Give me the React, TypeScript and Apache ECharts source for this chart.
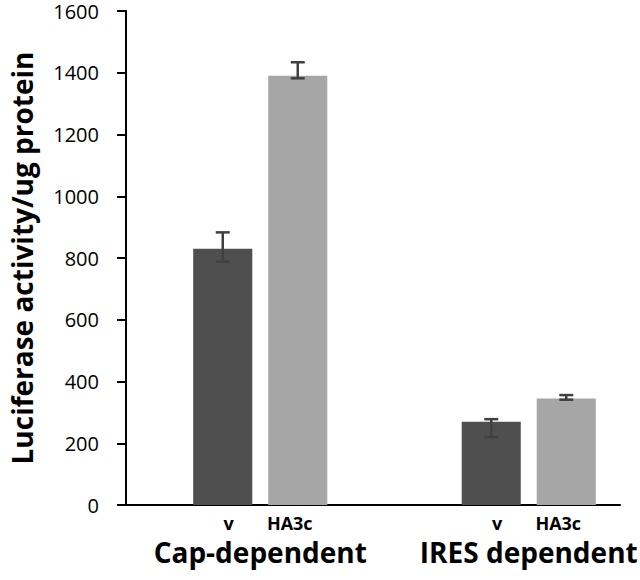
import React, { useEffect, useRef } from "react";
import * as echarts from "echarts";

const groups = ["Cap-dependent", "IRES dependent"];
const seriesNames = ["v", "HA3c"];
const vValues = [830, 270];
const ha3cValues = [1390, 345];
const vLower = [788, 220];
const vUpper = [883, 278];
const ha3cLower = [1382, 341];
const ha3cUpper = [1434, 356];
const yTicks = { min: 0, max: 1600, interval: 200 };

const FONT = "'Open Sans', sans-serif";
const BAR_W = 0.22;
const BAR_GAP = 0.27;

export default function App() {
  const ref = useRef<HTMLDivElement>(null);
  useEffect(() => {
    if (!ref.current) return;
    const chart = echarts.init(ref.current, null, { renderer: "svg" });

    const makeErr = (lower: number[], upper: number[], sIdx: number) => ({
      type: "custom",
      xAxisIndex: 0,
      yAxisIndex: 0,
      z: 5,
      data: lower.map((l, i) => [i, l, upper[i]]),
      renderItem: (params: any, api: any) => {
        const cat = api.value(0);
        const lo = api.coord([cat, api.value(1)]);
        const hi = api.coord([cat, api.value(2)]);
        const band = api.size([1, 0])[0];
        const bw = band * BAR_W;
        const step = bw * (1 + BAR_GAP);
        const x = lo[0] + (sIdx === 0 ? -step / 2 : step / 2);
        const cap = 7;
        const style = { stroke: "#404040", lineWidth: 2.5 };
        return {
          type: "group",
          children: [
            { type: "line", shape: { x1: x, y1: lo[1], x2: x, y2: hi[1] }, style },
            { type: "line", shape: { x1: x - cap, y1: hi[1], x2: x + cap, y2: hi[1] }, style },
            { type: "line", shape: { x1: x - cap, y1: lo[1], x2: x + cap, y2: lo[1] }, style },
          ],
        };
      },
    });

    const barLabel = (dx: number) => ({
      show: true,
      position: ["50%", "100%"],
      align: "center",
      verticalAlign: "top",
      offset: [dx, 9],
      formatter: "{a}",
      fontFamily: FONT,
      fontWeight: "bold",
      fontSize: 18,
      color: "#000",
    });

    chart.setOption({
      animation: false,
      grid: [
        { left: 126, width: 537, top: 11, bottom: 75, containLabel: false, outerBoundsMode: "none" },
        { left: 126, right: 20, top: 11, bottom: 75, containLabel: false, outerBoundsMode: "none" },
      ],
      xAxis: [
        {
          type: "category",
          gridIndex: 0,
          data: groups,
          axisLine: { show: false },
          axisTick: { show: false },
          axisLabel: {
            margin: 33,
            interval: 0,
            hideOverlap: false,
            fontFamily: FONT,
            fontWeight: "bold",
            fontSize: 28,
            color: "#000",
          },
        },
        {
          type: "value",
          gridIndex: 1,
          min: 0,
          max: 1,
          axisLine: { show: true, lineStyle: { color: "#000", width: 2 } },
          axisTick: { show: false },
          axisLabel: { show: false },
          splitLine: { show: false },
        },
      ],
      yAxis: [
        {
          type: "value",
          gridIndex: 0,
          min: yTicks.min,
          max: yTicks.max,
          interval: yTicks.interval,
          name: "Luciferase activity/ug protein",
          nameLocation: "middle",
          nameGap: 90,
          nameTextStyle: {
            fontFamily: FONT,
            fontWeight: "bold",
            fontSize: 28,
            color: "#000",
          },
          axisLine: { show: true, lineStyle: { color: "#000", width: 2 } },
          axisTick: { show: true, inside: false, length: 9, lineStyle: { color: "#000", width: 2 } },
          axisLabel: {
            margin: 27,
            fontFamily: FONT,
            fontSize: 20,
            lineHeight: 20,
            color: "#000",
            formatter: (v: number) => String(v),
          },
          splitLine: { show: false },
        },
        {
          type: "value",
          gridIndex: 1,
          show: false,
          min: 0,
          max: 1,
        },
      ],
      series: [
        {
          name: seriesNames[0],
          type: "bar",
          xAxisIndex: 0,
          yAxisIndex: 0,
          data: vValues,
          barWidth: BAR_W * 100 + "%",
          barGap: BAR_GAP * 100 + "%",
          itemStyle: { color: "#4f4f4f" },
          label: barLabel(6),
        },
        {
          name: seriesNames[1],
          type: "bar",
          xAxisIndex: 0,
          yAxisIndex: 0,
          data: ha3cValues,
          barWidth: BAR_W * 100 + "%",
          barGap: BAR_GAP * 100 + "%",
          itemStyle: { color: "#a6a6a6" },
          label: barLabel(-8),
        },
        makeErr(vLower, vUpper, 0),
        makeErr(ha3cLower, ha3cUpper, 1),
      ],
    });
    return () => chart.dispose();
  }, []);
  return <div ref={ref} style={{ width: 640, height: 580, position: "absolute", left: 0, top: 0 }} />;
}
